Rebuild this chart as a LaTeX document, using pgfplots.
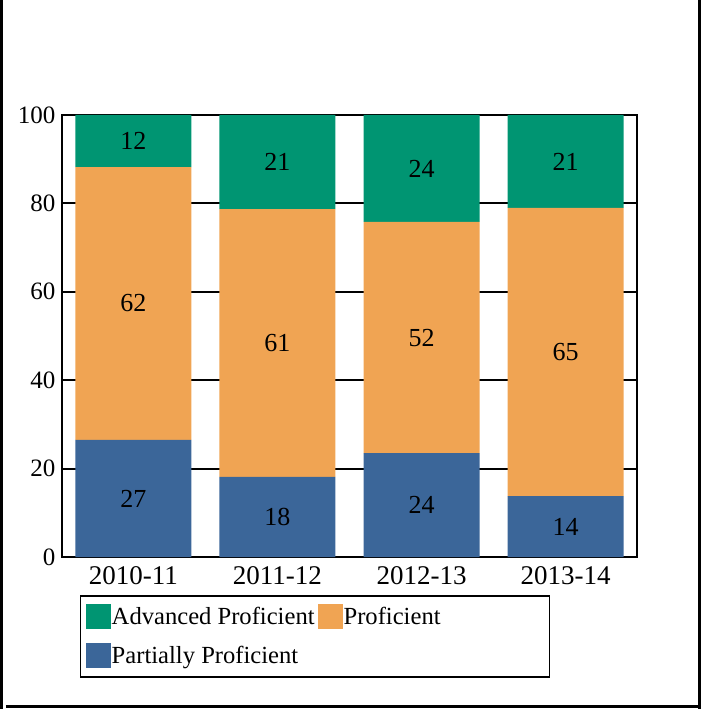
\documentclass[border=0pt]{standalone}
\usepackage{fontspec}
\setmainfont{Liberation Serif}
\usepackage{pgfplots}
\pgfplotsset{compat=1.18}

\definecolor{advgreen}{HTML}{009572}
\definecolor{profora}{HTML}{F0A453}
\definecolor{partblue}{HTML}{3B6699}

\pgfplotsset{
  frame axis/.style={
    at={(0pt,0pt)}, anchor=south west,
    scale only axis,
    width=575pt, height=442pt,
    xmin=-0.495, xmax=3.495,
    ymin=0, ymax=100,
  }
}

\begin{document}
\fontsize{24.6}{29}\selectfont
\begin{tikzpicture}
\useasboundingbox (-62pt,-152pt) rectangle (640pt,557pt);
\begin{axis}[
  frame axis,
  ybar stacked,
  bar width=116pt,
  xtick={0,1,2,3},
  xticklabels={2010-11,2011-12,2012-13,2013-14},
  ytick={0,20,40,60,80,100},
  major tick length=0pt,
  ymajorgrids,
  major grid style={black, line width=2pt},
  axis line style={black, line width=2.8pt},
  yticklabel style={font=\fontsize{25}{29}\selectfont, inner sep=6.5pt},
  xticklabel style={font=\fontsize{27}{32}\selectfont, yshift=-1pt},
  /pgf/number format/assume math mode=true,
  legend columns=2,
  reverse legend,
  legend cell align=left,
  legend image code/.code={\fill[#1,draw=none] (0pt,-12.5pt) rectangle (25pt,12.5pt);},
  legend style={at={(0.0313,-0.086)}, anchor=north west,
    draw=black, line width=1.5pt, inner xsep=5pt, inner ysep=6pt,
    row sep=9pt,
    nodes={inner sep=1pt, text height=22pt, text depth=6pt, line width=0.4pt},
    font=\fontsize{24.6}{29}\selectfont,
    /tikz/every even column/.append style={column sep=2pt}},
]
\addplot[fill=partblue, draw=none] coordinates {
  (0,26.5) (1,18.1) (2,23.5) (3,13.8)
};
\addlegendentry{Partially Proficient}
\addplot[fill=profora, draw=none] coordinates {
  (0,61.7) (1,60.6) (2,52.3) (3,65.2)
};
\addlegendentry{\makebox[200pt][l]{Proficient}}
\addplot[fill=advgreen, draw=none] coordinates {
  (0,11.8) (1,21.3) (2,24.2) (3,21.0)
};
\addlegendentry{Advanced Proficient}
\end{axis}
% value labels, centred in each segment
\begin{axis}[
  frame axis,
  hide axis,
  point meta=explicit symbolic,
  nodes near coords,
  every node near coord/.append style={anchor=center, text=black,
    font=\fontsize{26}{30}\selectfont},
]
\addplot[draw=none, mark=none] coordinates {
  (0,13.25) [27] (1,9.05) [18] (2,11.75) [24] (3,6.9) [14]
  (0,57.35) [62] (1,48.4) [61] (2,49.65) [52] (3,46.4) [65]
  (0,94.1) [12] (1,89.35) [21] (2,87.9) [24] (3,89.5) [21]
};
\end{axis}
\draw[line width=3pt] (-60.5pt,557pt) -- (-60.5pt,-152pt);
\draw[line width=3pt] (637pt,557pt) -- (637pt,-152pt);
\draw[line width=3pt] (-56pt,-149pt) -- (637pt,-149pt);
\end{tikzpicture}
\end{document}
